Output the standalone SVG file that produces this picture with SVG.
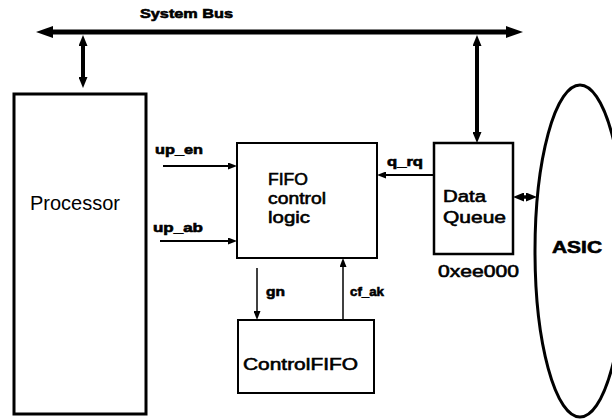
<svg xmlns="http://www.w3.org/2000/svg" width="612" height="419" viewBox="0 0 612 419">
<style>
.box{fill:none;stroke:#000}
.lbl{font-family:"Liberation Sans",Arial,sans-serif;font-weight:bold;font-size:13px;fill:#000;stroke:#000;stroke-width:0.6}
.name{font-family:"Liberation Sans",Arial,sans-serif;font-size:17px;fill:#000;stroke:#000;stroke-width:0.6}
.plain{font-family:"Liberation Sans",Arial,sans-serif;font-size:20px;fill:#000}
.wire{stroke:#000;fill:none}
</style>
<defs>
<marker id="busHead" markerUnits="userSpaceOnUse" markerWidth="18" markerHeight="12" refX="3" refY="6" orient="auto-start-reverse"><path d="M0,0 L17,6 L0,12 z" fill="#000"/></marker>
<marker id="midHead" markerUnits="userSpaceOnUse" markerWidth="12" markerHeight="9" refX="2" refY="4.5" orient="auto-start-reverse"><path d="M0,0 L11,4.5 L0,9 z" fill="#000"/></marker>
<marker id="sigHead" markerUnits="userSpaceOnUse" markerWidth="10" markerHeight="7" refX="2" refY="3.5" orient="auto-start-reverse"><path d="M0,0 L9,3.5 L0,7 z" fill="#000"/></marker>
</defs>
<text class="lbl" x="140" y="18" font-size="14" textLength="93" lengthAdjust="spacingAndGlyphs">System Bus</text>
<g id="connectors">
<line class="wire" x1="50" y1="32" x2="509" y2="32" stroke-width="5" marker-start="url(#busHead)" marker-end="url(#busHead)"/>
<line class="wire" x1="83" y1="44" x2="83" y2="79" stroke-width="4" marker-start="url(#midHead)" marker-end="url(#midHead)"/>
<line class="wire" x1="477" y1="44" x2="477" y2="134" stroke-width="4" marker-start="url(#midHead)" marker-end="url(#midHead)"/>
<line class="wire" x1="163" y1="166" x2="230" y2="166" stroke-width="2" marker-end="url(#sigHead)"/>
<line class="wire" x1="160" y1="241" x2="230" y2="241" stroke-width="2" marker-end="url(#sigHead)"/>
<line class="wire" x1="433" y1="175" x2="384" y2="175" stroke-width="2" marker-end="url(#sigHead)"/>
<line class="wire" x1="257" y1="268" x2="257" y2="313" stroke-width="1.5" marker-end="url(#sigHead)"/>
<line class="wire" x1="343" y1="320" x2="343" y2="265" stroke-width="1.5" marker-end="url(#sigHead)"/>
<line class="wire" x1="522" y1="197" x2="528" y2="197" stroke-width="3.5" marker-start="url(#midHead)" marker-end="url(#midHead)"/>
<text class="lbl" x="155" y="154" textLength="48" lengthAdjust="spacingAndGlyphs">up_en</text>
<text class="lbl" x="153" y="232" textLength="50" lengthAdjust="spacingAndGlyphs">up_ab</text>
<text class="lbl" x="387" y="166" textLength="36" lengthAdjust="spacingAndGlyphs">q_rq</text>
<text class="lbl" x="266" y="296" textLength="19" lengthAdjust="spacingAndGlyphs">gn</text>
<text class="lbl" x="350" y="296" textLength="34" lengthAdjust="spacingAndGlyphs">cf_ak</text>
</g>
<g id="processor">
<rect class="box" x="14" y="94" width="132" height="320" stroke-width="3"/>
<text class="plain" x="30" y="210" textLength="90" lengthAdjust="spacingAndGlyphs">Processor</text>
</g>
<g id="fifo-control-logic">
<rect class="box" x="237" y="143" width="140" height="115" stroke-width="2"/>
<text class="name" x="268" y="185" textLength="40" lengthAdjust="spacingAndGlyphs">FIFO</text>
<text class="name" x="268" y="204" textLength="58" lengthAdjust="spacingAndGlyphs">control</text>
<text class="name" x="268" y="223" textLength="42" lengthAdjust="spacingAndGlyphs">logic</text>
</g>
<g id="data-queue">
<rect class="box" x="434" y="143" width="79" height="111" stroke-width="2.5"/>
<text class="name" x="443" y="202" textLength="43" lengthAdjust="spacingAndGlyphs">Data</text>
<text class="name" x="443" y="223" textLength="63" lengthAdjust="spacingAndGlyphs">Queue</text>
<text class="name" x="438" y="277" textLength="81" lengthAdjust="spacingAndGlyphs">0xee000</text>
</g>
<g id="control-fifo">
<rect class="box" x="238" y="320" width="136" height="73" stroke-width="2"/>
<text class="name" x="243" y="370" font-size="19" textLength="115" lengthAdjust="spacingAndGlyphs">ControlFIFO</text>
</g>
<g id="asic">
<ellipse class="box" cx="580" cy="251" rx="45" ry="166" stroke-width="3"/>
<text class="name" x="552" y="253" font-size="19" font-weight="bold" textLength="50" lengthAdjust="spacingAndGlyphs">ASIC</text>
</g>
</svg>
